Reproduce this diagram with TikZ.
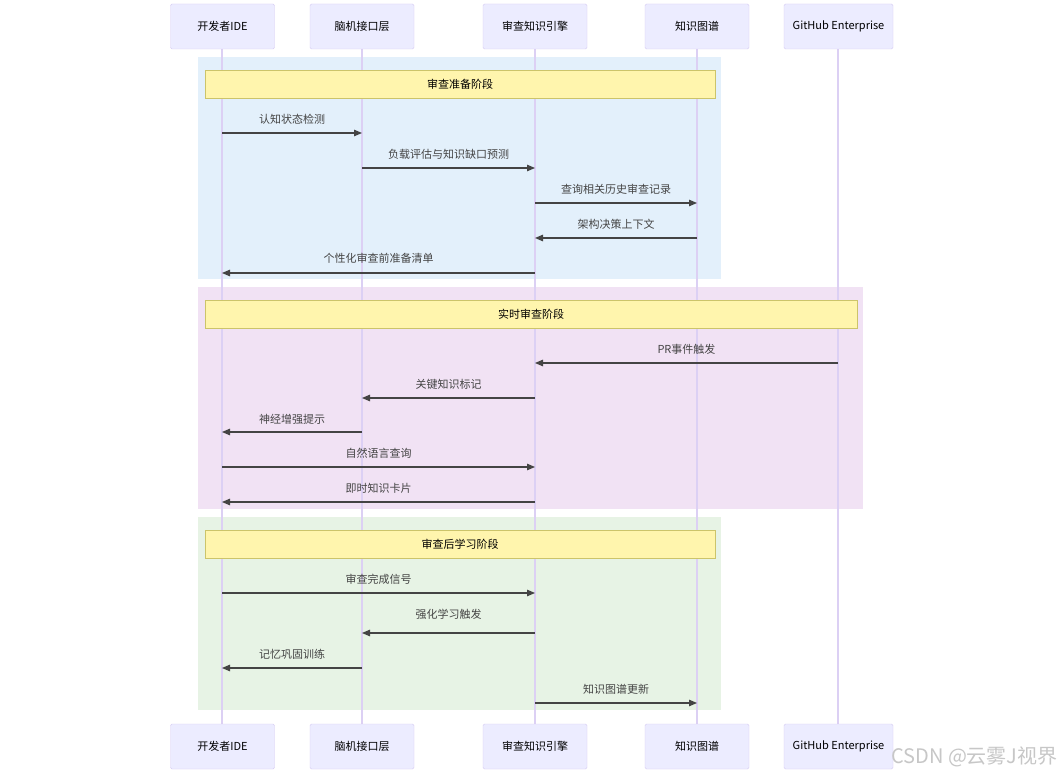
\documentclass[tikz,border=0pt]{standalone}
\usepackage{fontspec}
\setmainfont{Noto Sans CJK SC}
\usetikzlibrary{arrows.meta}
\definecolor{actfill}{HTML}{ECECFF}
\definecolor{actline}{HTML}{D6CCF2}
\definecolor{lifeline}{HTML}{DCD0F4}
\definecolor{blueband}{HTML}{E3F0FB}
\definecolor{purpleband}{HTML}{F1E2F4}
\definecolor{greenband}{HTML}{E7F3E5}
\definecolor{notefill}{HTML}{FFF5AD}
\definecolor{noteline}{HTML}{CCC46A}
\definecolor{msgcol}{HTML}{444444}
\tikzset{
  actor/.style={draw=actline, fill=actfill, rounded corners=1.5pt, minimum width=104pt, minimum height=45pt, font=\fontsize{11}{13}\selectfont, inner sep=0pt},
  notebox/.style={draw=noteline, fill=notefill, line width=0.9pt, font=\fontsize{11}{13}\selectfont, text=black, inner sep=0pt},
  life/.style={draw=lifeline, line width=1.2pt},
  msg/.style={draw=msgcol, line width=1.2pt, -{Triangle[length=8pt,width=6.5pt]}},
  lbl/.style={font=\fontsize{11}{13}\selectfont, text=msgcol, inner sep=0pt},
  wm/.style={font=\fontsize{20}{22}\selectfont, text=black!22, inner sep=0pt, anchor=west}
}
\begin{document}
\begin{tikzpicture}[x=1pt,y=-1pt]
\useasboundingbox (0,0) rectangle (1063,775);
\fill[white] (0,0) rectangle (1063,775);
% bands
\fill[blueband] (198,57) rectangle (721,279);
\fill[purpleband] (198,287) rectangle (863,509);
\fill[greenband] (198,517) rectangle (721,710);
% lifelines
\foreach \x/\n in {222/a,362/b,535/c,697/d,838/e}{
  \coordinate (top\n) at (\x,49);
  \coordinate (bot\n) at (\x,724);
  \draw[life] (top\n) -- (bot\n);
}
% actors top
\node[actor] (A1) at (222.5,26.5) {开发者IDE};
\node[actor] (B1) at (362,26.5) {脑机接口层};
\node[actor] (C1) at (535,26.5) {审查知识引擎};
\node[actor] (D1) at (697,26.5) {知识图谱};
\node[actor, minimum width=109pt] (E1) at (838.5,26.5) {GitHub Enterprise};
% actors bottom
\node[actor] (A2) at (222.5,746.5) {开发者IDE};
\node[actor] (B2) at (362,746.5) {脑机接口层};
\node[actor] (C2) at (535,746.5) {审查知识引擎};
\node[actor] (D2) at (697,746.5) {知识图谱};
\node[actor, minimum width=109pt] (E2) at (838.5,746.5) {GitHub Enterprise};
% notes
\node[notebox, minimum width=510pt, minimum height=28pt] (N1) at (460,84) {审查准备阶段};
\node[notebox, minimum width=652pt, minimum height=28pt] (N2) at (531,314) {实时审查阶段};
\node[notebox, minimum width=510pt, minimum height=28pt] (N3) at (460,544) {审查后学习阶段};
% message anchor coordinates
\foreach \y/\k in {133/1,168/2,203/3,238/4,273/5,363/6,398/7,432/8,467/9,502/10,593/11,633/12,668/13,703/14}{
  \coordinate (a\k) at (222,\y);
  \coordinate (b\k) at (362,\y);
  \coordinate (c\k) at (535,\y);
  \coordinate (d\k) at (697,\y);
  \coordinate (e\k) at (838,\y);
}
% phase 1
\draw[msg] (a1) -- (b1);
\node[lbl] (l1) at (292,119) {认知状态检测};
\draw[msg] (b2) -- (c2);
\node[lbl] (l2) at (448.5,154) {负载评估与知识缺口预测};
\draw[msg] (c3) -- (d3);
\node[lbl] (l3) at (616,189) {查询相关历史审查记录};
\draw[msg] (d4) -- (c4);
\node[lbl] (l4) at (616,224) {架构决策上下文};
\draw[msg] (c5) -- (a5);
\node[lbl] (l5) at (378.5,258) {个性化审查前准备清单};
% phase 2
\draw[msg] (e6) -- (c6);
\node[lbl] (l6) at (686.5,349) {PR事件触发};
\draw[msg] (c7) -- (b7);
\node[lbl] (l7) at (448.5,384) {关键知识标记};
\draw[msg] (b8) -- (a8);
\node[lbl] (l8) at (292,419) {神经增强提示};
\draw[msg] (a9) -- (c9);
\node[lbl] (l9) at (378.5,453) {自然语言查询};
\draw[msg] (c10) -- (a10);
\node[lbl] (l10) at (378.5,488) {即时知识卡片};
% phase 3
\draw[msg] (a11) -- (c11);
\node[lbl] (l11) at (378.5,579) {审查完成信号};
\draw[msg] (c12) -- (b12);
\node[lbl] (l12) at (448.5,614) {强化学习触发};
\draw[msg] (b13) -- (a13);
\node[lbl] (l13) at (292,654) {记忆巩固训练};
\draw[msg] (c14) -- (d14);
\node[lbl] (l14) at (616,689) {知识图谱更新};
% watermark
\node[wm] (wm) at (891,757) {CSDN @云雾J视界};
\end{tikzpicture}
\end{document}
